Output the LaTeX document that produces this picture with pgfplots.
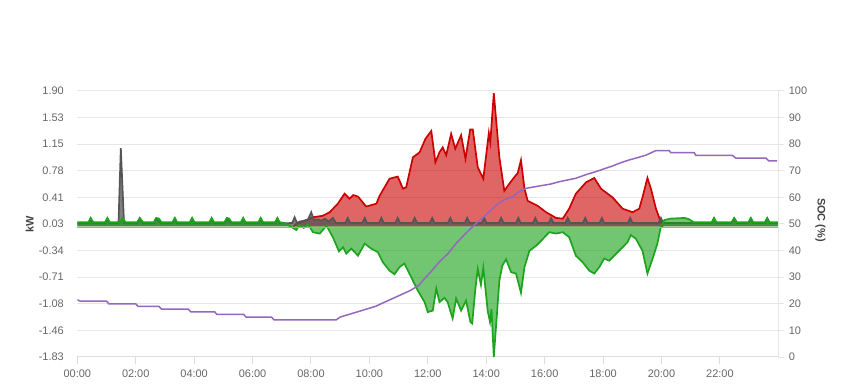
\documentclass[border=0pt]{standalone}
\usepackage{pgfplots}
\usepackage{pgfplotstable}
\pgfplotsset{compat=1.18}
\usepackage{fontspec}
\setmainfont{Liberation Sans}
\definecolor{txt}{HTML}{666666}
\definecolor{ttl}{HTML}{444444}
\definecolor{gridc}{HTML}{E6E6E6}
\definecolor{axc}{HTML}{DDDDDD}
\definecolor{redc}{HTML}{CC0000}
\definecolor{redf}{HTML}{CC0000}
\definecolor{greenc}{HTML}{1CA41C}
\definecolor{greenf}{HTML}{14A014}
\definecolor{grayc}{HTML}{555555}
\definecolor{bluec}{HTML}{7FB6CC}
\definecolor{purc}{HTML}{9467BD}

\pgfplotstableread{
h kw
7.40 0.00
7.51 0.04
7.80 0.08
8.07 0.13
8.40 0.15
8.64 0.20
8.92 0.32
9.15 0.46
9.32 0.39
9.45 0.44
9.61 0.42
9.89 0.28
10.24 0.32
10.35 0.43
10.69 0.67
10.97 0.70
11.15 0.53
11.26 0.55
11.49 0.97
11.72 1.04
11.92 1.23
12.12 1.34
12.26 0.90
12.40 1.04
12.51 1.11
12.63 1.00
12.80 1.30
12.94 1.09
13.14 1.28
13.29 0.95
13.45 1.36
13.54 1.36
13.71 0.83
13.90 0.67
14.09 1.31
14.14 1.18
14.26 1.87
14.45 0.97
14.62 0.50
14.79 0.60
14.96 0.69
15.08 0.75
15.19 0.93
15.31 0.53
15.42 0.36
15.76 0.29
16.05 0.20
16.39 0.12
16.62 0.11
16.84 0.25
17.07 0.46
17.42 0.62
17.70 0.68
17.93 0.53
18.32 0.41
18.67 0.25
19.01 0.20
19.24 0.25
19.35 0.41
19.52 0.68
19.64 0.53
19.81 0.25
19.98 0.06
20.05 0.00
}\redtab

\pgfplotstableread{
h kw
0.00 0.06
0.38 0.06
0.46 0.12
0.54 0.06
0.95 0.06
1.03 0.12
1.11 0.06
1.47 0.06
1.55 0.12
1.65 0.06
2.05 0.06
2.14 0.12
2.25 0.06
2.62 0.06
2.70 0.12
2.80 0.11
2.88 0.06
3.26 0.06
3.34 0.12
3.42 0.06
3.85 0.06
3.93 0.12
4.01 0.06
4.52 0.06
4.60 0.12
4.68 0.06
5.04 0.06
5.12 0.12
5.20 0.11
5.28 0.06
5.60 0.06
5.68 0.12
5.76 0.06
6.20 0.06
6.28 0.12
6.36 0.06
6.77 0.06
6.85 0.12
6.93 0.06
7.10 0.05
7.30 0.00
7.50 -0.05
7.60 0.02
7.75 -0.02
7.90 0.03
8.07 -0.08
8.30 -0.10
8.53 0.01
8.75 -0.15
8.96 -0.35
9.10 -0.29
9.21 -0.38
9.38 -0.31
9.50 -0.36
9.61 -0.41
9.84 -0.24
10.06 -0.31
10.29 -0.36
10.46 -0.50
10.69 -0.62
10.86 -0.67
11.03 -0.57
11.20 -0.52
11.43 -0.71
11.66 -0.90
11.89 -1.06
12.00 -1.20
12.17 -1.18
12.29 -0.87
12.40 -1.06
12.57 -1.00
12.68 -1.06
12.85 -1.29
12.97 -1.01
13.14 -1.18
13.31 -1.04
13.46 -1.34
13.52 -1.36
13.63 -0.87
13.71 -0.60
13.82 -0.82
13.90 -0.58
14.05 -1.18
14.13 -1.34
14.18 -1.16
14.26 -1.83
14.45 -0.76
14.55 -0.55
14.68 -0.46
14.85 -0.64
15.02 -0.66
15.19 -0.93
15.31 -0.57
15.48 -0.34
15.71 -0.27
15.88 -0.20
16.16 -0.08
16.39 -0.10
16.62 -0.08
16.84 -0.15
17.07 -0.41
17.30 -0.50
17.53 -0.62
17.70 -0.66
17.87 -0.57
18.04 -0.45
18.21 -0.48
18.55 -0.34
18.84 -0.22
18.95 -0.12
19.12 -0.17
19.35 -0.34
19.52 -0.66
19.69 -0.46
19.86 -0.24
19.98 0.00
20.10 0.09
20.30 0.11
20.80 0.12
20.95 0.10
21.10 0.06
21.72 0.06
21.80 0.12
21.88 0.06
22.40 0.06
22.49 0.12
22.58 0.06
22.98 0.06
23.06 0.12
23.14 0.06
23.54 0.06
23.62 0.12
23.70 0.06
24.00 0.06
}\greentab

\pgfplotstableread{
h kw
0.00 0.04
0.38 0.04
0.46 0.11
0.54 0.04
0.95 0.04
1.03 0.11
1.11 0.04
1.41 0.04
1.49 1.10
1.60 0.04
2.05 0.04
2.14 0.11
2.25 0.04
2.62 0.04
2.70 0.11
2.88 0.04
3.26 0.04
3.34 0.11
3.42 0.04
3.85 0.04
3.93 0.11
4.01 0.04
4.52 0.04
4.60 0.11
4.68 0.04
5.04 0.04
5.12 0.11
5.28 0.04
5.60 0.04
5.68 0.11
5.76 0.04
6.20 0.04
6.28 0.11
6.36 0.04
6.77 0.04
6.85 0.11
6.93 0.04
7.36 0.05
7.44 0.13
7.52 0.05
7.62 0.07
7.75 0.08
7.90 0.10
8.01 0.20
8.10 0.09
8.25 0.10
8.35 0.08
8.48 0.11
8.60 0.07
8.75 0.12
8.85 0.05
9.18 0.05
9.26 0.12
9.34 0.05
9.76 0.05
9.84 0.12
9.92 0.05
10.33 0.05
10.41 0.12
10.49 0.05
10.89 0.05
10.97 0.12
11.05 0.05
11.47 0.05
11.55 0.12
11.63 0.05
12.07 0.05
12.15 0.12
12.23 0.05
12.69 0.05
12.77 0.12
12.85 0.05
13.27 0.05
13.35 0.12
13.43 0.05
13.85 0.05
13.93 0.12
14.01 0.05
14.43 0.05
14.51 0.12
14.59 0.05
15.02 0.05
15.10 0.12
15.18 0.05
15.60 0.05
15.68 0.12
15.76 0.05
16.14 0.05
16.22 0.12
16.30 0.05
16.71 0.05
16.79 0.12
16.87 0.05
17.31 0.05
17.39 0.12
17.47 0.05
17.88 0.05
17.96 0.12
18.04 0.05
18.85 0.05
18.93 0.12
19.01 0.05
19.90 0.05
19.98 0.12
20.06 0.05
21.72 0.05
21.80 0.11
21.88 0.05
22.40 0.05
22.49 0.11
22.58 0.05
22.98 0.05
23.06 0.11
23.14 0.05
23.54 0.05
23.62 0.11
23.70 0.05
24.00 0.05
}\graytab

\pgfplotstableread{
h soc
0.00 21.5
0.10 21
1.00 21
1.08 20
2.00 20
2.08 19
2.80 19
2.88 18
3.80 18
3.88 17
4.70 17
4.78 16
5.70 16
5.78 15
6.65 15
6.73 14
8.87 14
9.00 15
9.30 16
9.60 17
9.90 18
10.20 19
10.50 20.5
10.80 22
11.10 23.5
11.40 25
11.70 27
11.85 29
12.10 32
12.40 35.8
12.70 39
12.97 42.7
13.30 46.5
13.65 50.2
14.00 53.5
14.34 57.1
14.60 59
14.91 60.3
15.10 62
15.36 63.4
15.82 64.3
16.20 65
16.50 65.9
17.07 67.2
17.40 68.5
17.76 69.7
18.05 70.8
18.32 71.8
18.60 73
18.90 74.1
19.20 75
19.47 75.9
19.81 77.6
20.26 77.6
20.32 76.8
21.12 76.8
21.18 75.8
22.43 75.8
22.54 74.8
23.57 74.8
23.68 73.7
23.96 73.7
}\soctab

\begin{document}
\begin{tikzpicture}
\useasboundingbox (-77.3bp,-33bp) rectangle (771.7bp,357bp);
\begin{axis}[
  at={(0bp,0bp)}, anchor=south west,
  scale only axis, width=701bp, height=266bp,
  xmin=0, xmax=24, ymin=-1.83, ymax=1.90,
  clip=false,
  axis x line*=bottom, axis y line*=left,
  y axis line style={draw=none},
  x axis line style={draw=axc, line width=1bp},
  xtick={0,2,...,22},
  xticklabels={00:00,02:00,04:00,06:00,08:00,10:00,12:00,14:00,16:00,18:00,20:00,22:00},
  ytick={-1.83,-1.457,-1.084,-0.711,-0.338,0.035,0.408,0.781,1.154,1.527,1.9},
  yticklabels={-1.83,-1.46,-1.08,-0.71,-0.34,0.03,0.41,0.78,1.15,1.53,1.90},
  tick align=outside,
  xtick style={draw=axc, line width=1bp},
  major tick length=7bp,
  ytick style={draw=none},
  ymajorgrids, grid style={draw=gridc, line width=1bp},
  ticklabel style={font=\fontsize{11}{13}\selectfont, text=txt},
  yticklabel style={anchor=east, xshift=-3bp},
  xticklabel style={yshift=-2bp},
  ylabel={\textbf{kW}},
  ylabel style={at={(axis description cs:-0.068,0.5)}, anchor=center, font=\fontsize{11}{13}\selectfont, text=ttl},
]
\addplot[draw=none, fill=redf, fill opacity=0.6] table[x=h,y=kw] {\redtab} \closedcycle;
\addplot[redc, line width=1.7bp] table[x=h,y=kw] {\redtab};
\addplot[draw=none, fill=grayc, fill opacity=0.75] table[x=h,y=kw] {\graytab} \closedcycle;
\addplot[grayc, line width=1.7bp] table[x=h,y=kw] {\graytab};
\addplot[draw=none, fill=greenf, fill opacity=0.6] table[x=h,y=kw] {\greentab} \closedcycle;
\addplot[greenc, line width=1.7bp] table[x=h,y=kw] {\greentab};
\addplot[bluec, line width=1.2bp] coordinates {(0,-0.01) (24,-0.01)};
\end{axis}
\begin{axis}[
  at={(0bp,0bp)}, anchor=south west,
  scale only axis, width=701bp, height=266bp,
  xmin=0, xmax=24, ymin=0, ymax=100,
  axis x line=none, axis y line*=right,
  y axis line style={draw=gridc, line width=1bp},
  ytick={0,10,...,100},
  tick align=outside,
  major tick length=6bp,
  ytick style={draw=gridc, line width=1bp},
  ticklabel style={font=\fontsize{11}{13}\selectfont, text=txt},
  /pgf/number format/assume math mode=true,
  yticklabel style={anchor=west, xshift=1bp},
  ylabel={\textbf{SOC (\%)}},
  ylabel style={at={(axis description cs:1.06,0.515)}, rotate=180, anchor=center, font=\fontsize{11}{13}\selectfont, text=ttl},
]
\addplot[purc, line width=1.5bp] table[x=h,y=soc] {\soctab};
\end{axis}
\end{tikzpicture}
\end{document}
